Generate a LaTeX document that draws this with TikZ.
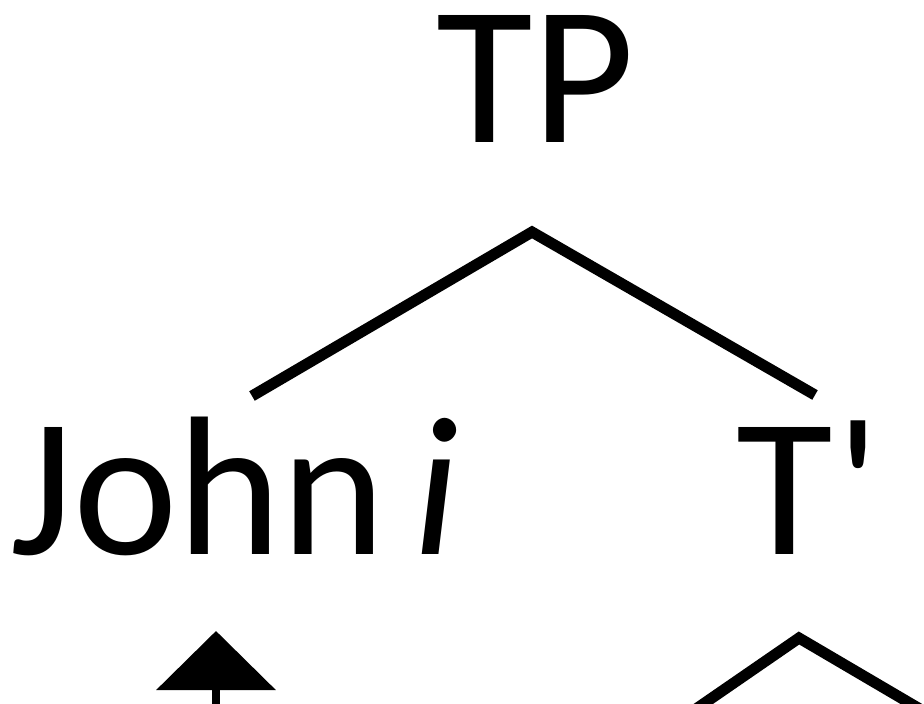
\documentclass[tikz,border=0pt]{standalone}
\usepackage{fontspec}
\setmainfont{Carlito}
\usetikzlibrary{arrows.meta}
\begin{document}
\begin{tikzpicture}[x=1pt,y=-1pt,
  lbl/.style={anchor=base west, inner sep=0pt, font=\fontsize{198}{198}\selectfont},
  branch/.style={line width=11pt, line join=miter, line cap=butt},
  mvarrow/.style={line width=8pt, -{Triangle[width=118pt,length=59pt]}}]
\useasboundingbox[fill=white] (0,0) rectangle (924,704);
% labels
\node[lbl] (tp) at (436,142) {TP};
\node[lbl] (john) at (10,554) {John\hspace{28pt}\textit{i}};
\node[lbl] (tbar) at (736,554) {T\hspace{4pt}\textquotesingle};
% branch points
\coordinate (tpfoot) at (532,232);
\coordinate (johnhead) at (252,396);
\coordinate (tbarhead) at (815,395);
\coordinate (tbarfoot) at (799,638);
\coordinate (leftchild) at (680,720);
\coordinate (rightchild) at (925,712);
\coordinate (arrowtip) at (216,631);
\coordinate (trace) at (216,740);
% connectors
\draw[branch] (johnhead) -- (tpfoot) -- (tbarhead);
\draw[branch] (leftchild) -- (tbarfoot) -- (rightchild);
\draw[mvarrow] (trace) -- (arrowtip);
\end{tikzpicture}
\end{document}
